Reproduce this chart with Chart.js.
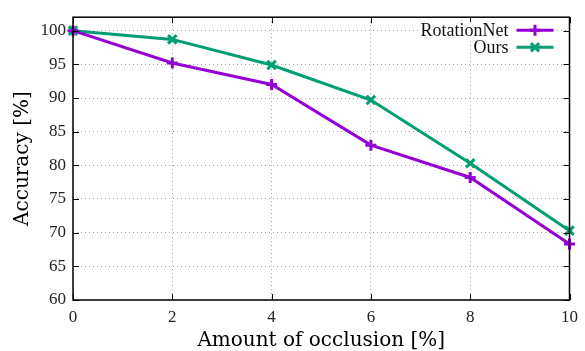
<!DOCTYPE html>
<html>
<head>
<meta charset="utf-8">
<script src="https://cdn.jsdelivr.net/npm/chart.js@4/dist/chart.umd.min.js"></script>
<style>
  html, body { margin: 0; padding: 0; background: #fff; }
  #wrap { width: 585px; height: 351px; }
</style>
</head>
<body>
<div id="wrap"><canvas id="chart" width="585" height="351"></canvas></div>
<script>
const occlusion = [0, 2, 4, 6, 8, 10];
const rotationNet = [100, 95.2, 92.0, 83.0, 78.2, 68.3];
const ours = [100, 98.7, 94.9, 89.7, 80.3, 70.3];
const yTicks = [60, 65, 70, 75, 80, 85, 90, 95, 100];

const colors = {
  rotation: "#9400D3",
  ours: "#009E73",
  grid: "#a0a0a0",
  axis: "#000000",
};
const serif = "'Liberation Serif', 'DejaVu Serif', serif";
const titleSerif = "'DejaVu Serif', 'Liberation Serif', serif";

// gnuplot-like frame: inward ticks on all four sides + key box
const framePlugin = {
  id: "frame",
  afterDraw(chart) {
    const { ctx, chartArea: a, scales } = chart;
    ctx.save();
    ctx.strokeStyle = colors.axis;
    ctx.lineWidth = 1.5;
    ctx.strokeRect(a.left, a.top, a.right - a.left, a.bottom - a.top);
    ctx.lineWidth = 1;
    const t = 6;
    occlusion.forEach((v) => {
      const x = Math.round(scales.x.getPixelForValue(v)) + 0.5;
      ctx.beginPath();
      ctx.moveTo(x, a.bottom); ctx.lineTo(x, a.bottom - t);
      ctx.moveTo(x, a.top); ctx.lineTo(x, a.top + t);
      ctx.stroke();
    });
    yTicks.forEach((v) => {
      const y = Math.round(scales.y.getPixelForValue(v)) + 0.5;
      ctx.beginPath();
      ctx.moveTo(a.left, y); ctx.lineTo(a.left + t, y);
      ctx.moveTo(a.right, y); ctx.lineTo(a.right - t, y);
      ctx.stroke();
    });

    // key
    ctx.font = "18px " + serif;
    ctx.textAlign = "right";
    ctx.textBaseline = "middle";
    const textRight = a.right - 61;
    const sx0 = a.right - 53, sx1 = a.right - 16;
    chart.data.datasets.forEach((ds, i) => {
      const y = a.top + 13 + i * 17;
      const w = ctx.measureText(ds.label).width;
      ctx.fillStyle = "#fff";
      ctx.fillRect(textRight - w - 2, y - 8, sx1 - textRight + w + 4, 16);
      ctx.fillStyle = "#111";
      ctx.fillText(ds.label, textRight, y + 1);
      ctx.strokeStyle = ds.borderColor;
      ctx.lineWidth = 3;
      ctx.beginPath();
      ctx.moveTo(sx0, y); ctx.lineTo(sx1, y);
      ctx.stroke();
      const cx = (sx0 + sx1) / 2, r = 5.5;
      ctx.beginPath();
      if (ds.pointStyle === "cross") {
        ctx.moveTo(cx - r, y); ctx.lineTo(cx + r, y);
        ctx.moveTo(cx, y - r); ctx.lineTo(cx, y + r);
      } else {
        const d = r * 0.75;
        ctx.moveTo(cx - d, y - d); ctx.lineTo(cx + d, y + d);
        ctx.moveTo(cx - d, y + d); ctx.lineTo(cx + d, y - d);
      }
      ctx.stroke();
    });
    ctx.restore();
  },
};

new Chart(document.getElementById("chart"), {
  type: "line",
  data: {
    datasets: [
      {
        label: "RotationNet",
        data: occlusion.map((x, i) => ({ x, y: rotationNet[i] })),
        borderColor: colors.rotation,
        backgroundColor: colors.rotation,
        borderWidth: 3,
        pointStyle: "cross",
        pointRadius: 5.5,
        pointBorderWidth: 3,
        tension: 0,
      },
      {
        label: "Ours",
        data: occlusion.map((x, i) => ({ x, y: ours[i] })),
        borderColor: colors.ours,
        backgroundColor: colors.ours,
        borderWidth: 3,
        pointStyle: "crossRot",
        pointRadius: 6,
        pointBorderWidth: 3,
        tension: 0,
      },
    ],
  },
  options: {
    responsive: false,
    animation: false,
    clip: false,
    layout: { padding: { top: 12, right: 13, left: 0, bottom: 0 } },
    plugins: { legend: { display: false }, tooltip: { enabled: false } },
    scales: {
      x: {
        type: "linear",
        min: 0,
        max: 10,
        afterBuildTicks: (s) => { s.ticks = occlusion.map((v) => ({ value: v })); },
        afterFit: (s) => { s.height = 51; },
        grid: { color: colors.grid, drawTicks: false, lineWidth: 1 },
        border: { display: false, dash: [1, 3] },
        ticks: { color: "#222", font: { family: serif, size: 17 }, padding: 7, maxRotation: 0 },
        title: {
          display: true,
          text: "Amount of occlusion [%]",
          color: "#000",
          font: { family: titleSerif, size: 20, lineHeight: 1.0 },
          padding: { top: 0, bottom: 0 },
        },
      },
      y: {
        type: "linear",
        min: 60,
        max: 102,
        afterBuildTicks: (s) => { s.ticks = yTicks.map((v) => ({ value: v })); },
        afterFit: (s) => { s.width = 73; },
        grid: { color: colors.grid, drawTicks: false, lineWidth: 1 },
        border: { display: false, dash: [1, 3] },
        ticks: { color: "#222", font: { family: serif, size: 17 }, padding: 7 },
        title: {
          display: true,
          text: "Accuracy [%]",
          color: "#000",
          font: { family: titleSerif, size: 20, lineHeight: 1.0 },
          padding: { top: 13, bottom: 0 },
        },
      },
    },
  },
  plugins: [framePlugin],
});
</script>
</body>
</html>
